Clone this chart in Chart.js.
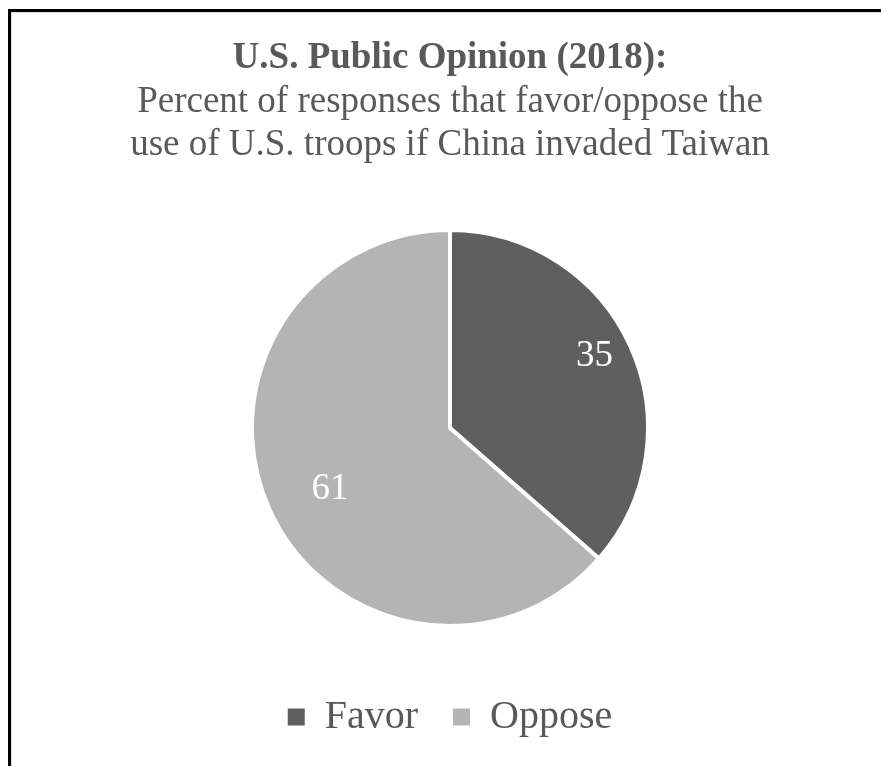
<!DOCTYPE html>
<html>
<head>
<meta charset="utf-8">
<script src="https://cdn.jsdelivr.net/npm/chart.js@4.4.1/dist/chart.umd.min.js"></script>
<style>
  html, body { margin: 0; padding: 0; background: #fff; overflow: hidden; }
  #wrap { position: absolute; left: 9px; top: 0; }
  #frame {
    position: absolute; left: 8px; top: 9px; width: 1000px; height: 1000px;
    border-top: 3px solid #000; border-left: 3px solid #000;
    box-shadow: inset 1px 1px 0 #d9d9d9;
    pointer-events: none;
  }
</style>
</head>
<body>
<div id="wrap"><canvas id="chart" width="882" height="747"></canvas></div>
<div id="frame"></div>
<script>
const titleText = 'U.S. Public Opinion (2018):';
const subtitleLines = [
  'Percent of responses that favor/oppose the',
  'use of U.S. troops if China invaded Taiwan'
];
const categories = ['Favor', 'Oppose'];
const responses = [35, 61];
const sliceColors = ['#5f5f5f', '#b4b4b4'];

const serif = "'Liberation Serif', 'Times New Roman', serif";
const textColor = '#595959';

// writes each slice's value inside it, at a fraction of the radius
const sliceLabels = {
  id: 'sliceLabels',
  afterDatasetsDraw(chart, args, opts) {
    const ctx = chart.ctx;
    const meta = chart.getDatasetMeta(0);
    const values = chart.data.datasets[0].data;
    ctx.save();
    ctx.font = opts.font;
    ctx.fillStyle = opts.color;
    ctx.textAlign = 'center';
    ctx.textBaseline = 'middle';
    meta.data.forEach((arc, i) => {
      const mid = (arc.startAngle + arc.endAngle) / 2 + opts.turn[i];
      const r = arc.outerRadius * opts.distance[i];
      ctx.fillText(String(values[i]), arc.x + Math.cos(mid) * r, arc.y + Math.sin(mid) * r);
    });
    ctx.restore();
  }
};

const baseLabels = Chart.controllers.pie.overrides.plugins.legend.labels.generateLabels;

new Chart(document.getElementById('chart'), {
  type: 'pie',
  data: {
    labels: categories,
    datasets: [{
      data: responses,
      backgroundColor: sliceColors,
      borderColor: '#ffffff',
      borderWidth: 4,
      radius: 198
    }]
  },
  options: {
    responsive: false,
    animation: false,
    devicePixelRatio: 1,
    layout: { padding: 0 },
    plugins: {
      title: {
        display: true,
        text: titleText,
        color: textColor,
        font: { family: serif, size: 37, weight: 'bold', lineHeight: 1.2 },
        padding: { top: 36, bottom: 0 }
      },
      subtitle: {
        display: true,
        text: subtitleLines,
        color: textColor,
        font: { family: serif, size: 37, weight: 'normal', lineHeight: 1.162 },
        padding: { top: 0, bottom: 27.6 }
      },
      legend: {
        position: 'bottom',
        labels: {
          color: textColor,
          font: { family: serif, size: 40 },
          boxWidth: 17,
          boxHeight: 17,
          padding: 35,
          generateLabels(chart) {
            return baseLabels(chart).map(item => ({ ...item, lineWidth: 0 }));
          }
        }
      },
      tooltip: { enabled: false },
      sliceLabels: {
        font: `37px ${serif}`,
        color: '#ffffff',
        distance: [0.815, 0.68],
        turn: [-0.035, -0.045]
      }
    }
  },
  plugins: [sliceLabels]
});
</script>
</body>
</html>
